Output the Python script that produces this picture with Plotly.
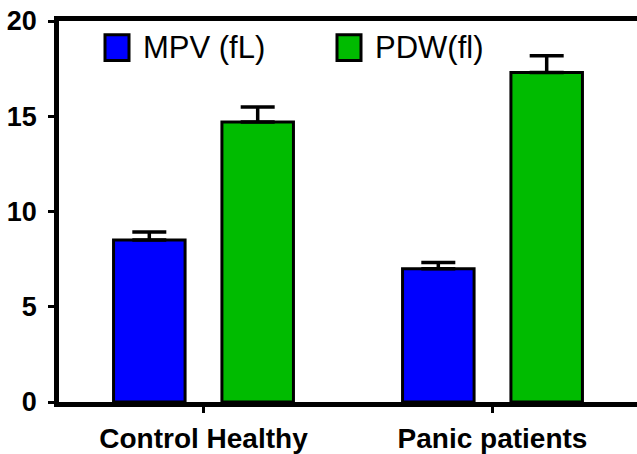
import plotly.graph_objects as go

# ---- data ----
categories = ["Control Healthy", "Panic patients"]
series_names = ["MPV (fL)", "PDW(fl)"]
mpv_values = [8.5, 7.0]
mpv_errors = [0.42, 0.32]
pdw_values = [14.7, 17.3]
pdw_errors = [0.78, 0.88]
y_ticks = [0, 5, 10, 15, 20]

# ---- layout helpers (pixel -> paper) ----
W, H = 637, 454
L, R, T, B = 59, 0, 21, 48


def px(x):
    return (x - L) / (W - L - R)


def py(y):
    return (H - B - y) / (H - T - B)


FONT = "Liberation Sans, Arial, sans-serif"
colors = ["#0000FF", "#00BB00"]

fig = go.Figure()
for name, vals, errs, col in [
    (series_names[0], mpv_values, mpv_errors, colors[0]),
    (series_names[1], pdw_values, pdw_errors, colors[1]),
]:
    fig.add_trace(go.Bar(
        x=categories, y=vals, name=name,
        marker=dict(color=col, line=dict(color="black", width=3)),
        error_y=dict(type="data", array=errs, arrayminus=[0] * len(errs),
                     symmetric=False, color="black", thickness=3.5, width=17),
        showlegend=False,
    ))

fig.update_layout(
    width=W, height=H,
    margin=dict(l=L, r=R, t=T, b=B),
    paper_bgcolor="white", plot_bgcolor="white",
    barmode="group", bargap=0.25, bargroupgap=0.34,
    font=dict(family=FONT, color="black"),
    xaxis=dict(
        range=[-0.5, 1.5], showline=True, linewidth=4.5, linecolor="black",
        mirror=True, ticks="outside", ticklen=6, tickwidth=3, tickcolor="black",
        tickfont=dict(size=28, family=FONT, weight="bold"),
        showgrid=False, zeroline=False, ticklabelstandoff=2,
    ),
    yaxis=dict(
        range=[0, 20], tickvals=y_ticks, showline=True, linewidth=4.5,
        linecolor="black", ticks="outside", ticklen=6, tickwidth=3,
        tickcolor="black", tickfont=dict(size=27, family=FONT, weight="bold"),
        showgrid=False, zeroline=False, ticklabelstandoff=6,
    ),
)

# legend drawn as layout decorations
legend_items = [(105, 129, 141, colors[0], series_names[0]),
                (337, 361, 373, colors[1], series_names[1])]
for x0, x1, tx, col, label in legend_items:
    fig.add_shape(type="rect", xref="paper", yref="paper",
                  x0=px(x0), x1=px(x1), y0=py(61), y1=py(35),
                  fillcolor=col, line=dict(color="black", width=3))
    fig.add_annotation(xref="paper", yref="paper", x=px(tx), y=py(48),
                       text=label, showarrow=False, xanchor="left",
                       yanchor="middle", font=dict(size=31, family=FONT,
                                                   color="black"))

fig.write_html(
    "out.html",
    config={"displayModeBar": False},
    post_script="document.body.style.margin='0';"
                "document.body.style.overflow='hidden';",
)
